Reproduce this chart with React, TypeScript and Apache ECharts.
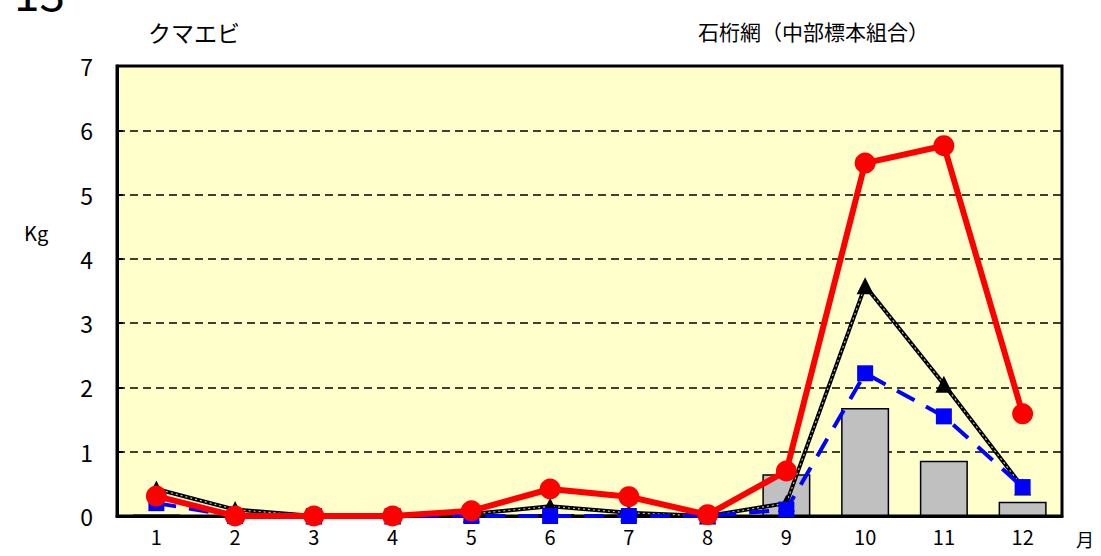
import React, { useEffect, useRef } from "react";
import * as echarts from "echarts";

const months = ["1", "2", "3", "4", "5", "6", "7", "8", "9", "10", "11", "12"];
const barValues = [0.02, 0, 0, 0, 0, 0.03, 0.02, 0, 0.65, 1.68, 0.86, 0.22];
const redValues = [0.31, 0, 0, 0, 0.08, 0.42, 0.3, 0.02, 0.7, 5.49, 5.76, 1.59];
const blackValues = [0.42, 0.1, 0, 0, 0.03, 0.15, 0.05, 0, 0.2, 3.58, 2.05, 0.45];
const blueValues = [0.2, 0, 0, 0, 0, 0, 0, 0, 0.1, 2.22, 1.55, 0.45];
const yTicks = [0, 1, 2, 3, 4, 5, 6, 7];

const FONT = "'Noto Sans CJK JP', 'Noto Sans', sans-serif";

export default function App() {
  const ref = useRef<HTMLDivElement>(null);
  useEffect(() => {
    document.body.style.margin = "0";
    const chart = echarts.init(ref.current!, null, { renderer: "svg" });
    chart.setOption({
      animation: false,
      backgroundColor: "#ffffff",
      textStyle: { fontFamily: FONT },
      grid: {
        left: 117,
        right: 39,
        top: 66,
        bottom: 40,
        show: true,
        backgroundColor: "#FFFFCC",
        borderColor: "#000",
        borderWidth: 3,
      },
      graphic: [
        { type: "text", left: 14, top: -32, style: { text: "13", fontSize: 46, fill: "#000", fontFamily: FONT } },
        { type: "text", left: 148, top: 20, style: { text: "クマエビ", fontSize: 23, fill: "#000", fontFamily: FONT } },
        { type: "text", left: 698, top: 20, style: { text: "石桁網（中部標本組合）", fontSize: 21, fill: "#000", fontFamily: FONT } },
        { type: "text", left: 24, top: 222, style: { text: "Kg", fontSize: 20, fill: "#000", fontFamily: FONT } },
        { type: "text", left: 1076, top: 530, style: { text: "月", fontSize: 18, fill: "#000", fontFamily: FONT } },
      ],
      xAxis: {
        type: "category",
        data: months,
        boundaryGap: true,
        axisLine: { lineStyle: { color: "#000", width: 3 } },
        axisTick: { show: false },
        axisLabel: { color: "#000", fontSize: 20, margin: 10, fontFamily: FONT },
      },
      yAxis: {
        type: "value",
        min: 0,
        max: 7,
        interval: 1,
        axisLine: { show: true, lineStyle: { color: "#000", width: 3 } },
        axisTick: { show: true, inside: true, length: 6, lineStyle: { color: "#000", width: 2 } },
        axisLabel: {
          color: "#000",
          fontSize: 23,
          margin: 24,
          fontFamily: FONT,
          formatter: (v: number) => (yTicks.includes(v) ? String(v) : ""),
        },
        splitLine: { show: true, lineStyle: { color: "#000", width: 1.5, type: [8, 5] } },
      },
      series: [
        {
          type: "bar",
          data: barValues,
          barWidth: "61%",
          itemStyle: { color: "#C0C0C0", borderColor: "#000", borderWidth: 1.5 },
          z: 1,
        },
        {
          type: "line",
          data: blackValues,
          symbol: "none",
          lineStyle: { color: "#000", width: 4 },
          z: 2,
        },
        {
          type: "line",
          data: blackValues,
          symbol: "none",
          lineStyle: { color: "#bbbbbb", width: 1.2, type: [2, 3] },
          silent: true,
          z: 3,
        },
        {
          type: "scatter",
          data: blackValues,
          symbol: "triangle",
          symbolSize: 17,
          itemStyle: { color: "#000", opacity: 1 },
          z: 4,
        },
        {
          type: "line",
          data: blueValues,
          symbol: "rect",
          symbolSize: 16,
          itemStyle: { color: "#0000FF" },
          lineStyle: { color: "#0000FF", width: 4, type: [20, 13] },
          z: 5,
        },
        {
          type: "line",
          data: redValues,
          symbol: "circle",
          symbolSize: 21,
          itemStyle: { color: "#FF0000" },
          lineStyle: { color: "#FF0000", width: 6 },
          z: 6,
        },
      ],
    });
    return () => chart.dispose();
  }, []);
  return <div ref={ref} style={{ width: 1101, height: 556 }} />;
}
